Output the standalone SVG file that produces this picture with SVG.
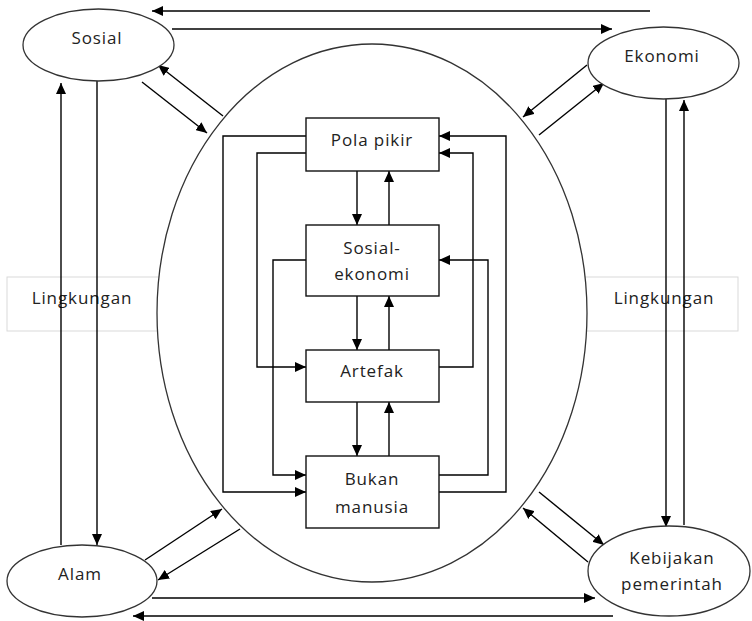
<svg xmlns="http://www.w3.org/2000/svg" width="752" height="621" viewBox="0 0 752 621">
<defs>
<marker id="ah" viewBox="0 0 11 10" refX="11" refY="5" markerWidth="11" markerHeight="10" markerUnits="userSpaceOnUse" orient="auto"><path d="M0,0 L11,5 L0,10 z" fill="#000"/></marker>
<style>
.t{font-family:"Open Sans","DejaVu Sans",sans-serif;font-size:17px;fill:#222;text-anchor:middle;letter-spacing:0.9px}
.ell{fill:#fff;stroke:#333;stroke-width:1.3}
.box{fill:#fff;stroke:#111;stroke-width:1.4}
.lk{fill:#fff;stroke:#d9d9d9;stroke-width:1}
.c{fill:none;stroke:#000;stroke-width:1.4}
.a{marker-end:url(#ah)}
</style>
</defs>
<rect width="752" height="621" fill="#fff"/>
<g id="lingkungan-left"><rect class="lk" x="7" y="277" width="200" height="54"/><text class="t" x="82" y="304">Lingkungan</text></g>
<g id="lingkungan-right"><rect class="lk" x="540" y="277" width="198" height="54"/><text class="t" x="664" y="304">Lingkungan</text></g>
<g id="big-ellipse"><ellipse class="ell" cx="372" cy="313" rx="215" ry="269"/></g>
<g id="connectors">
<path class="c a" d="M357,171 V225"/>
<path class="c a" d="M389,225 V171"/>
<path class="c a" d="M357,296 V350"/>
<path class="c a" d="M389,350 V296"/>
<path class="c a" d="M357,402 V456"/>
<path class="c a" d="M389,456 V402"/>
<path class="c a" d="M306,136 H223 V492 H306"/>
<path class="c a" d="M306,153 H257 V367 H306"/>
<path class="c a" d="M306,260 H273 V475 H306"/>
<path class="c a" d="M439,492 H506 V136 H439"/>
<path class="c a" d="M439,367 H473 V153 H439"/>
<path class="c a" d="M439,475 H488 V260 H439"/>
<path class="c a" d="M650,11 H152"/>
<path class="c a" d="M172,29 H612"/>
<path class="c a" d="M142,82 L207,133"/>
<path class="c a" d="M223,116 L158,65"/>
<path class="c a" d="M587,65 L523,117"/>
<path class="c a" d="M539,135 L604,83"/>
<path class="c a" d="M666,99 V527"/>
<path class="c a" d="M684,525 V100"/>
<path class="c a" d="M539,492 L604,545"/>
<path class="c a" d="M588,562 L523,508"/>
<path class="c a" d="M61,545 V83"/>
<path class="c a" d="M97,81 V545"/>
<path class="c a" d="M145,560 L222,509"/>
<path class="c a" d="M240,529 L158,580"/>
<path class="c a" d="M152,598 H595"/>
<path class="c a" d="M613,616 H133"/>
</g>
<g id="pola-pikir"><rect class="box" x="306" y="118" width="133" height="53"/><text class="t" x="372" y="146">Pola pikir</text></g>
<g id="sosial-ekonomi"><rect class="box" x="306" y="225" width="133" height="71"/><text class="t" x="372" y="254">Sosial-</text><text class="t" x="372" y="280">ekonomi</text></g>
<g id="artefak"><rect class="box" x="306" y="350" width="133" height="52"/><text class="t" x="372" y="377">Artefak</text></g>
<g id="bukan-manusia"><rect class="box" x="306" y="456" width="133" height="72"/><text class="t" x="372" y="485">Bukan</text><text class="t" x="372" y="513">manusia</text></g>
<g id="sosial"><ellipse class="ell" cx="98.5" cy="45" rx="75.5" ry="36"/><text class="t" x="97" y="44">Sosial</text></g>
<g id="ekonomi"><ellipse class="ell" cx="663.5" cy="63" rx="75.5" ry="36"/><text class="t" x="662" y="62">Ekonomi</text></g>
<g id="alam"><ellipse class="ell" cx="82" cy="581" rx="75" ry="36"/><text class="t" x="80" y="580">Alam</text></g>
<g id="kebijakan-pemerintah"><ellipse class="ell" cx="669" cy="571" rx="81" ry="45"/><text class="t" x="672" y="564">Kebijakan</text><text class="t" x="672" y="590">pemerintah</text></g>
</svg>
